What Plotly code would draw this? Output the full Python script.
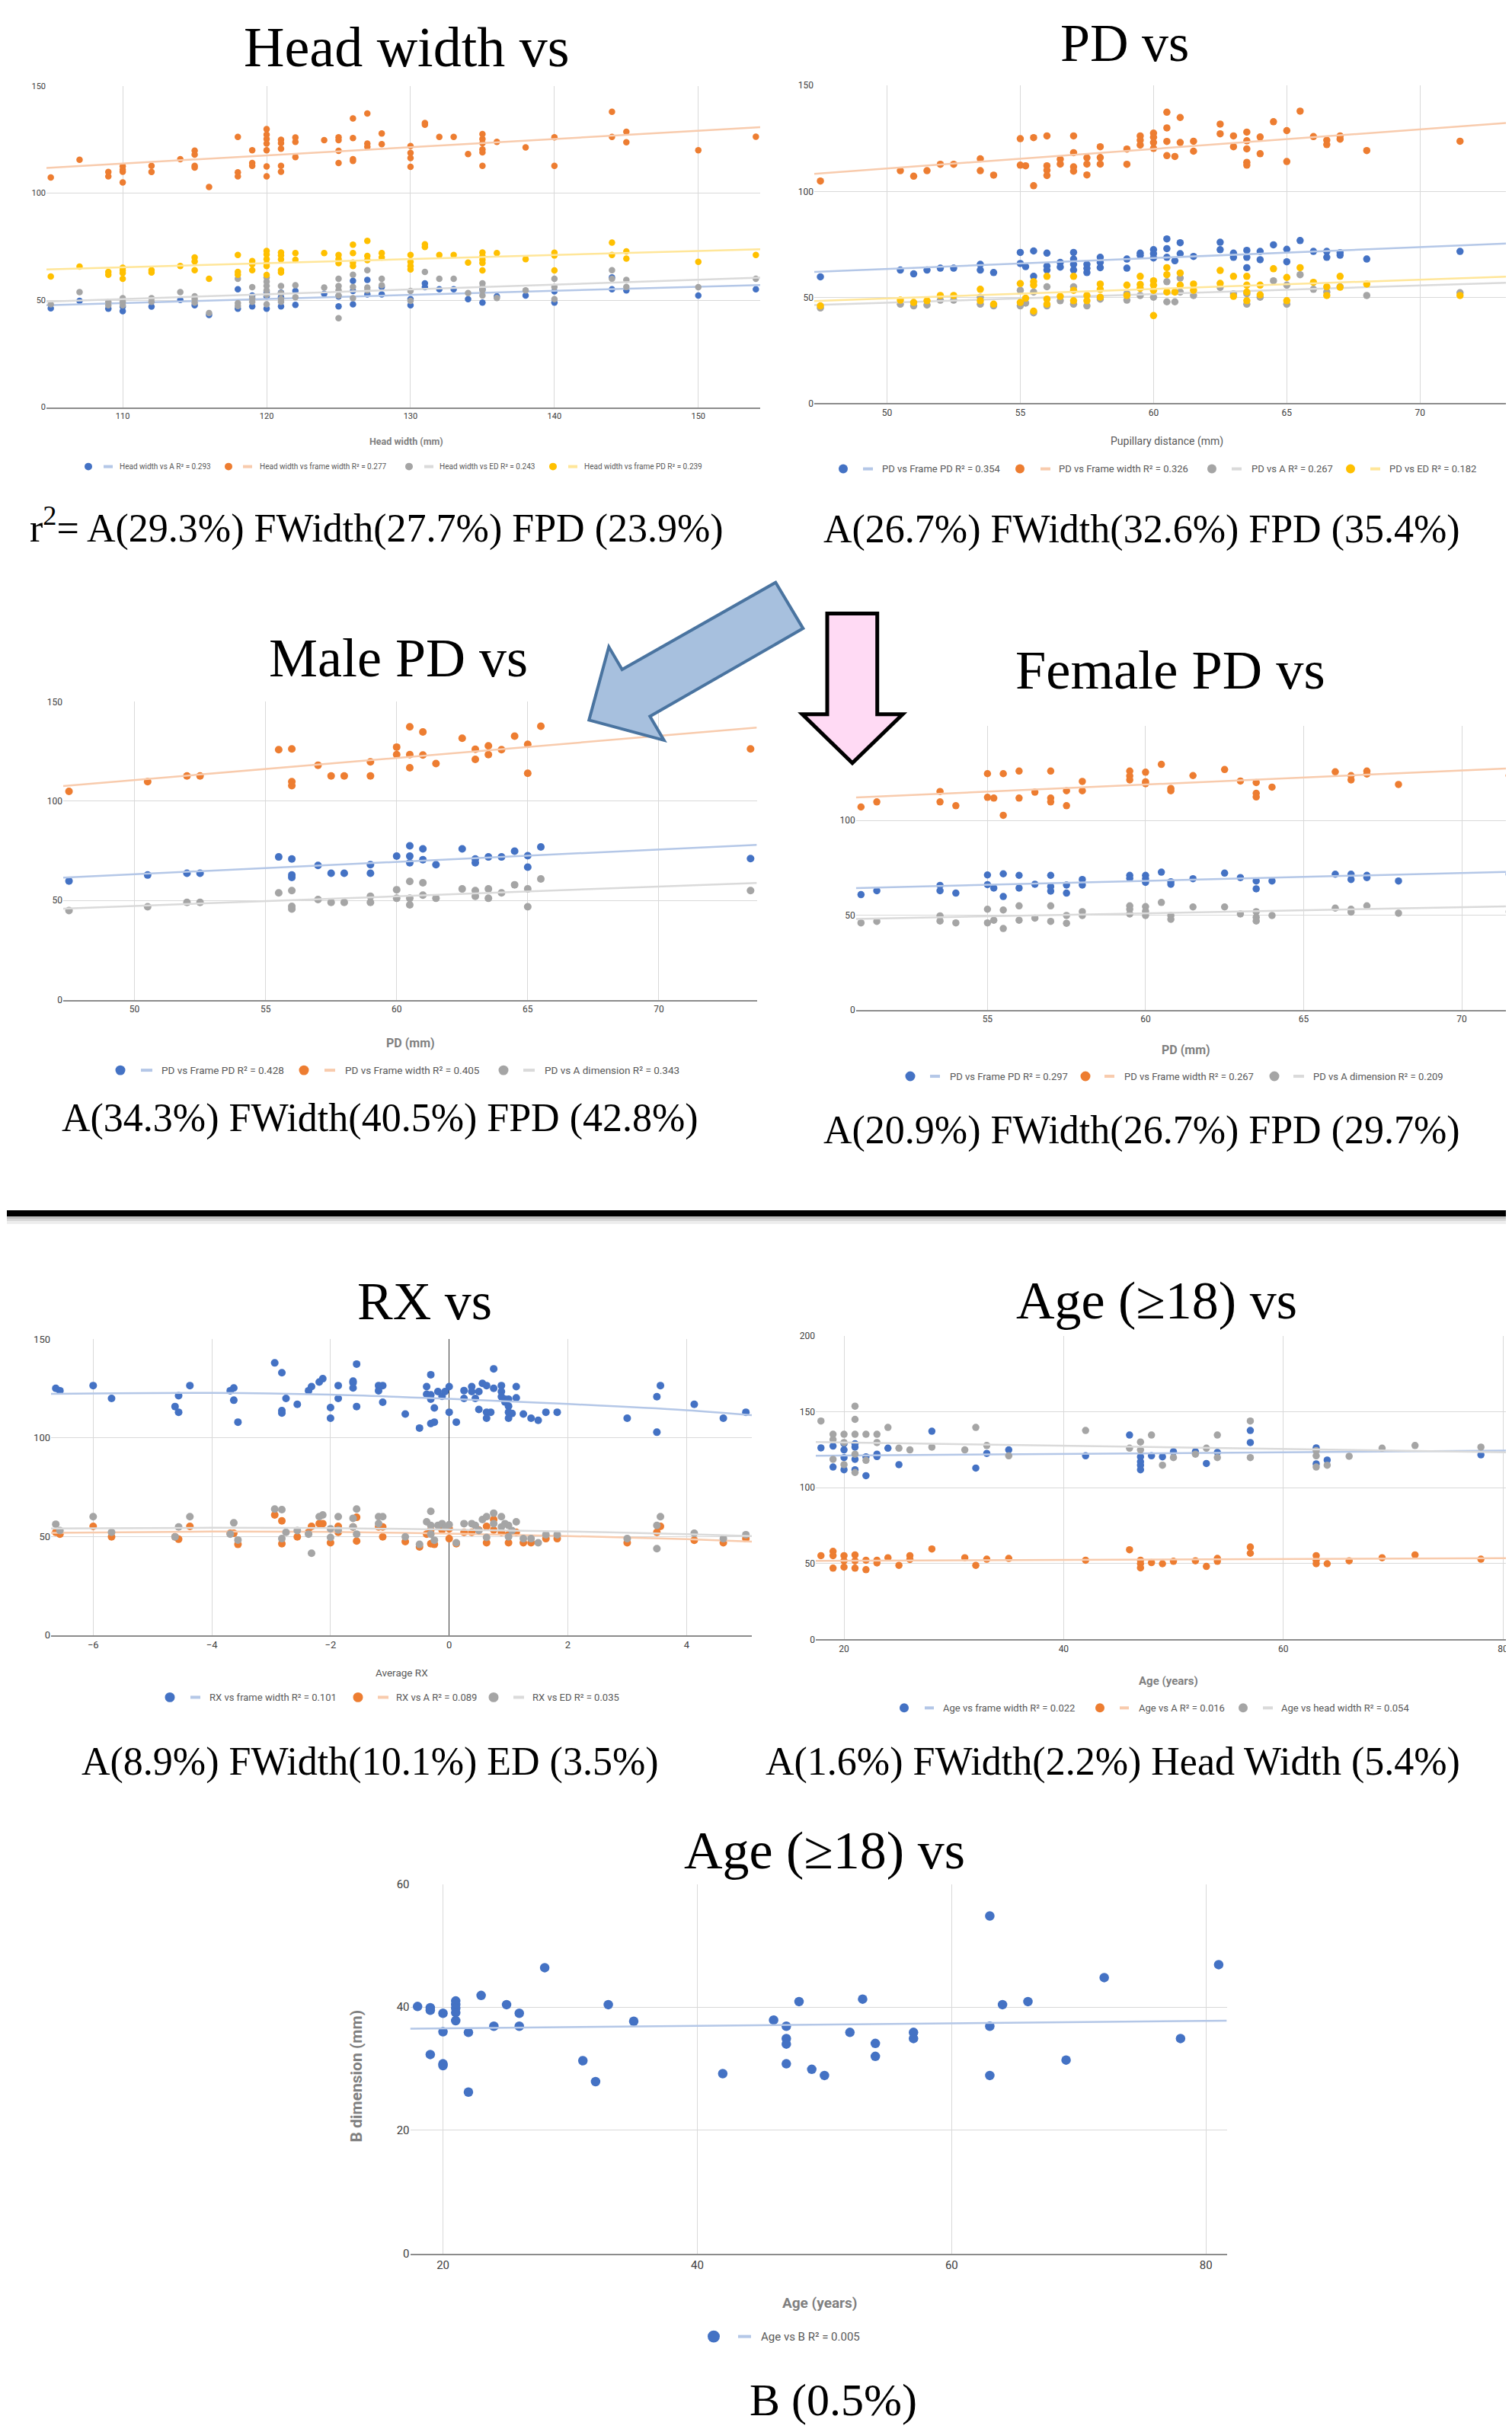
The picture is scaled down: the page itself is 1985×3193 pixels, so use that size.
import plotly.graph_objects as go

# Target page size and the browser's default body margin. The figure starts at the
# body margin and is sized so that it reaches the right / bottom page edge exactly.
W, H = 1985, 3193
M = 8
FW, FH = W - M, H - 2 * M

# ====================== DATA ======================
# ---- Panel 1: Head width vs ... (x = head width, mm)
hw_a_x = [105,107,109,110,110,112,114,115,116,118,118,119,119,120,120,120,121,121,121,122,122,124,125,125,126,126,126,127,127,128,128,130,130,131,131,132,133,134,135,135,136,138,140,140,144,144,145,150,154]
hw_a_y = [46.2,49.7,46.0,47.0,44.9,47.0,50.1,47.6,43.1,55.1,46.0,52.2,47.1,53.8,51.7,46.0,53.5,51.4,47.1,54.3,47.8,53.0,51.7,47.1,59.0,54.3,48.1,59.5,52.7,56.2,52.7,50.5,47.6,57.9,56.1,55.1,55.1,50.5,55.1,48.9,51.8,52.2,54.1,48.9,60.6,55.1,54.6,52.2,55.1]
hw_fw_x = [105,107,109,109,110,110,110,110,112,112,114,115,115,115,115,116,118,118,118,119,119,119,120,120,120,120,120,120,120,121,121,121,121,121,122,122,122,124,125,125,125,125,126,126,126,126,127,127,127,128,128,130,130,130,130,131,131,132,133,134,135,135,135,135,135,135,136,138,140,140,144,144,145,145,150,154]
hw_fw_y = [107.3,115.6,109.9,107.9,112.6,111.0,110.0,105.0,112.8,109.9,115.9,119.9,118.0,112.8,112.0,102.9,126.3,109.7,107.9,120.1,114.1,112.8,129.9,127.4,125.3,123.2,120.1,112.5,107.9,125.0,123.4,120.8,112.8,110.0,126.0,124.0,116.9,124.8,126.1,124.8,119.8,114.1,134.9,125.8,115.9,115.1,137.2,123.2,121.7,127.9,122.9,122.0,118.8,116.4,112.3,132.8,132.0,126.3,126.3,118.3,127.6,125.3,123.4,120.4,119.1,112.8,124.0,121.4,126.1,112.8,138.0,126.3,128.7,123.8,120.1,126.4]
hw_ed_x = [105,107,109,109,110,110,110,112,112,114,115,115,115,116,118,118,118,119,119,119,120,120,120,120,120,120,121,121,121,121,122,122,124,125,125,125,125,125,126,126,126,127,127,127,128,128,130,130,131,132,133,134,135,135,135,135,136,138,140,140,140,144,144,145,145,150,154]
hw_ed_y = [48.1,53.8,49.2,47.6,50.9,49.2,47.6,50.9,49.2,53.8,51.8,50.5,48.9,44.0,60.0,48.6,47.3,56.1,50.9,49.2,60.6,58.7,56.7,54.6,52.5,48.1,56.6,53.3,50.5,49.2,57.0,51.4,55.9,60.0,56.6,54.6,52.2,41.6,61.9,56.2,50.9,64.0,55.9,54.6,60.0,57.0,54.3,49.7,63.2,60.0,60.0,53.3,57.9,56.2,54.6,52.2,51.0,54.6,60.0,56.2,50.5,64.0,60.0,59.5,56.2,56.1,60.0]
hw_fpd_x = [105,107,109,109,110,110,110,110,112,112,114,115,115,115,116,118,118,118,119,119,119,120,120,120,120,120,120,121,121,121,121,121,122,122,124,125,125,125,126,126,126,126,127,127,127,128,128,130,130,130,130,131,131,132,133,134,135,135,135,135,135,136,138,140,140,140,144,144,145,145,150,154]
hw_fpd_y = [61.1,65.7,63.2,61.9,65.2,63.9,62.7,60.0,64.0,62.9,66.0,70.0,68.1,64.0,60.0,71.1,63.2,61.9,68.3,66.8,64.0,73.0,71.4,69.2,67.1,66.0,61.8,72.3,70.9,69.1,64.0,62.9,72.0,68.9,72.0,71.1,69.2,67.3,75.9,72.0,67.6,66.0,77.7,70.7,68.7,72.0,70.0,71.1,67.9,66.0,64.4,76.1,74.9,71.1,71.1,67.6,72.3,70.5,68.9,67.4,63.9,72.0,69.2,72.2,70.9,63.9,76.9,71.1,72.8,69.4,67.9,71.1]
hw_trend_x = [104.7, 154.3]
hw_trend_a = [47.6, 57.1]
hw_trend_fw = [111.8, 130.8]
hw_trend_ed = [49.3, 60.5]
hw_trend_fpd = [64.4, 73.8]
hw_labels = ["Head width vs A R² = 0.293", "Head width vs frame width R² = 0.277",
             "Head width vs ED R² = 0.243", "Head width vs frame PD R² = 0.239"]

# ---- Panel 2: PD vs ... (x = pupillary distance, mm)
pd_fpd_x = [47.5,50.5,51.0,51.5,52.0,52.5,53.5,53.5,54.0,55.0,55.0,55.2,55.5,55.5,56.0,56.0,56.0,56.5,56.5,57.0,57.0,57.0,57.0,57.5,57.5,57.5,58.0,58.0,58.0,59.0,59.0,59.5,59.5,60.0,60.0,60.0,60.5,60.5,60.5,60.8,61.0,61.0,61.5,62.5,62.5,63.0,63.0,63.5,63.5,63.5,64.0,64.0,64.5,65.0,65.0,65.5,66.0,66.5,66.5,67.0,67.0,68.0,71.5,73.4]
pd_fpd_y = [59.7,62.9,61.1,62.9,63.8,63.8,65.6,62.9,61.7,71.2,66.0,64.5,71.9,59.9,70.9,64.8,62.9,66.5,64.3,71.2,68.1,65.6,62.9,65.6,63.7,61.7,68.9,66.5,64.0,68.1,63.8,70.9,69.8,72.5,70.6,68.6,77.6,73.0,68.9,67.3,75.8,70.6,69.3,76.0,72.5,70.9,68.9,72.2,68.9,64.0,71.7,67.8,74.8,72.7,66.8,76.8,71.7,71.7,68.9,71.1,69.9,68.1,71.7,70.9]
pd_fw_x = [47.5,50.5,51.0,51.5,52.0,52.5,53.5,53.5,54.0,55.0,55.0,55.2,55.5,55.5,56.0,56.0,56.0,56.0,56.5,56.5,57.0,57.0,57.0,57.0,57.5,57.5,57.5,58.0,58.0,58.0,59.0,59.0,59.5,59.5,59.5,60.0,60.0,60.0,60.0,60.5,60.5,60.5,60.5,60.8,61.0,61.0,61.5,61.5,62.5,62.5,63.0,63.0,63.5,63.5,63.5,63.5,63.5,64.0,64.0,64.5,65.0,65.0,65.5,66.0,66.5,66.5,67.0,67.0,68.0,71.5,73.4]
pd_fw_y = [104.9,109.8,107.2,109.8,112.8,112.8,115.4,109.8,107.7,124.9,112.4,112.1,125.4,102.7,126.2,112.1,110.0,107.5,115.2,112.9,126.2,118.3,111.6,109.6,115.9,112.9,107.8,121.1,116.0,112.9,120.0,112.8,126.2,124.2,121.9,127.5,125.6,123.1,120.3,137.4,130.0,123.6,116.9,116.5,134.9,123.1,123.7,119.0,131.8,127.2,126.2,121.1,128.0,123.9,120.1,113.7,112.4,125.7,117.8,132.9,128.7,114.1,137.9,125.9,124.2,122.1,126.2,124.7,119.3,123.7,126.2]
pd_a_x = [47.5,50.5,51.0,51.5,52.0,52.5,53.5,53.5,54.0,55.0,55.0,55.2,55.5,55.5,56.0,56.0,56.5,57.0,57.0,57.5,58.0,59.0,59.0,59.5,60.0,60.5,60.5,60.8,61.0,61.0,61.5,62.5,63.0,63.5,63.5,64.0,64.5,65.0,65.0,65.5,66.0,66.5,67.0,68.0,71.5,73.4]
pd_a_y = [45.0,46.8,46.0,46.4,48.7,48.7,50.1,46.8,46.0,53.3,46.0,47.3,52.5,42.7,55.0,46.0,48.4,55.0,46.8,46.0,49.2,51.7,48.7,50.9,50.1,57.4,47.9,47.9,59.1,52.5,50.9,54.7,51.7,51.7,46.8,50.1,57.8,55.8,46.8,60.7,53.8,52.5,55.0,50.9,52.2,55.0]
pd_ed_x = [47.5,50.5,51.0,51.5,52.0,52.5,53.5,53.5,54.0,55.0,55.0,55.2,55.5,55.5,55.5,56.0,56.0,56.0,56.5,57.0,57.0,57.0,57.5,57.5,58.0,58.0,58.0,59.0,59.0,59.5,59.5,59.5,60.0,60.0,60.0,60.0,60.5,60.5,60.5,60.8,61.0,61.0,61.5,61.5,62.5,62.5,63.0,63.0,63.5,63.5,63.5,63.5,64.0,64.0,64.5,65.0,65.0,65.5,66.0,66.5,66.5,67.0,67.0,68.0,71.5,73.4]
pd_ed_y = [46.0,48.7,47.6,48.4,50.9,50.9,53.8,48.4,46.8,56.5,47.6,49.6,57.4,55.8,43.5,59.9,49.2,46.8,50.5,59.9,53.3,48.4,50.9,48.4,56.3,53.8,50.1,55.8,50.9,59.9,56.1,54.2,57.8,55.8,53.3,41.4,64.0,60.7,52.5,52.5,61.5,55.8,56.3,53.3,62.7,56.6,59.9,50.5,59.9,55.8,52.5,48.4,55.8,51.2,63.5,59.4,48.4,64.0,57.1,55.0,50.9,59.9,54.8,56.3,50.9,59.9]
pd_trend_x = [47.27, 73.45]
pd_trend_fpd = [62.0, 75.5]
pd_trend_fw = [108.3, 132.5]
pd_trend_a = [46.4, 57.0]
pd_trend_ed = [48.3, 59.9]
pd_labels = ["PD vs Frame PD R² = 0.354", "PD vs Frame width R² = 0.326",
             "PD vs A R² = 0.267", "PD vs ED R² = 0.182"]

# ---- Panel 3: Male PD vs ...
m_fpd_x = [47.5,50.5,52.0,52.5,55.5,56.0,56.0,56.0,57.0,57.5,58.0,59.0,59.0,60.0,60.5,60.5,60.5,61.0,61.0,61.5,62.5,63.0,63.0,63.5,64.0,64.5,65.0,65.0,65.5,73.5]
m_fpd_y = [59.8,62.8,63.7,63.7,71.9,70.9,62.8,61.6,67.6,63.7,63.7,68.0,63.7,72.3,77.5,72.3,69.0,76.0,70.5,68.0,76.0,70.9,69.0,71.9,71.9,74.8,72.5,66.8,76.9,71.1]
m_fw_x = [47.5,50.5,52.0,52.5,55.5,56.0,56.0,56.0,57.0,57.5,58.0,59.0,59.0,60.0,60.0,60.5,60.5,60.5,61.0,61.0,61.5,62.5,63.0,63.0,63.5,63.5,64.0,64.5,65.0,65.0,65.5,73.5]
m_fw_y = [104.9,109.8,112.7,112.7,125.9,126.3,109.8,107.8,118.1,112.7,112.7,119.8,112.7,127.2,123.4,137.4,123.4,116.8,134.8,123.2,118.9,131.7,126.1,121.0,127.8,123.4,125.9,132.7,128.6,114.0,137.7,126.3]
m_a_x = [47.5,50.5,52.0,52.5,55.5,56.0,56.0,56.0,57.0,57.5,58.0,59.0,59.0,60.0,60.0,60.5,60.5,60.5,61.0,61.0,61.5,62.5,63.0,63.0,63.5,63.5,64.0,64.5,65.0,65.0,65.5,73.5]
m_a_y = [44.9,46.8,49.0,49.0,53.8,55.0,47.0,45.7,50.5,49.0,49.0,52.1,49.0,55.4,51.1,59.6,51.1,47.8,58.9,52.7,51.1,55.8,55.0,52.1,55.8,51.1,53.8,57.9,55.8,46.8,60.8,55.0]
m_trend_x = [47.28, 73.74]
m_trend_fpd = [61.5, 78.0]
m_trend_fw = [107.6, 137.0]
m_trend_a = [45.9, 58.8]
m_labels = ["PD vs Frame PD R² = 0.428", "PD vs Frame width R² = 0.405", "PD vs A dimension R² = 0.343"]

# ---- Panel 4: Female PD vs ...
f_fpd_x = [51.0,51.5,53.5,53.5,54.0,55.0,55.0,55.2,55.5,55.5,56.0,56.0,56.5,57.0,57.0,57.0,57.5,57.5,58.0,58.0,59.5,59.5,60.0,60.0,60.0,60.5,60.8,60.8,61.5,62.5,63.0,63.5,63.5,64.0,66.0,66.5,66.5,67.0,67.0,68.0,71.5]
f_fpd_y = [60.8,62.9,65.7,62.9,61.6,71.2,66.1,64.3,71.8,59.8,71.0,64.3,66.3,71.0,65.1,62.7,65.9,61.6,68.8,65.9,71.0,69.4,71.0,69.2,67.3,72.7,67.6,66.3,69.2,72.2,69.8,68.0,63.9,68.0,71.6,71.6,68.8,71.0,69.8,68.0,71.6]
f_fw_x = [51.0,51.5,53.5,53.5,54.0,55.0,55.0,55.2,55.5,55.5,56.0,56.0,56.5,57.0,57.0,57.0,57.5,57.5,58.0,58.0,59.5,59.5,59.5,60.0,60.0,60.0,60.5,60.8,60.8,61.5,62.5,63.0,63.5,63.5,63.5,64.0,66.0,66.5,66.5,67.0,67.0,68.0,71.5]
f_fw_y = [107.1,109.8,115.3,109.8,107.8,124.7,112.2,111.8,124.7,102.7,126.1,111.8,114.9,126.1,111.8,109.8,115.7,107.8,120.6,115.7,126.1,123.5,121.4,125.5,120.4,119.4,129.6,116.9,115.7,123.7,126.9,120.8,120.0,114.3,112.4,117.6,125.7,123.7,121.4,126.1,124.5,119.0,123.7]
f_a_x = [51.0,51.5,53.5,53.5,54.0,55.0,55.0,55.2,55.5,55.5,56.0,56.0,56.5,57.0,57.0,57.5,57.5,58.0,58.0,59.5,59.5,59.5,60.0,60.0,60.0,60.5,60.8,60.8,61.5,62.5,63.0,63.5,63.5,63.5,64.0,66.0,66.5,66.5,67.0,68.0,71.5]
f_a_y = [45.9,46.7,49.6,46.9,45.9,53.1,45.9,47.3,52.7,42.9,54.9,47.3,48.4,54.9,46.7,49.8,45.7,51.8,49.8,54.9,53.1,50.6,54.5,52.0,49.8,56.7,49.8,47.8,54.3,54.3,50.6,51.8,48.8,46.9,49.8,53.7,53.1,51.6,54.9,51.0,51.8]
f_trend_x = [50.84, 71.59]
f_trend_fpd = [64.3, 72.9]
f_trend_fw = [112.1, 127.6]
f_trend_a = [48.0, 54.7]
f_labels = ["PD vs Frame PD R² = 0.297", "PD vs Frame width R² = 0.267", "PD vs A dimension R² = 0.209"]

# ---- Panel 5: RX vs ... (x = average RX)
rx_fw_x = [-6.63,-6.56,-6.0,-5.69,-4.62,-4.56,-4.56,-4.37,-3.69,-3.63,-3.63,-3.56,-2.94,-2.82,-2.82,-2.82,-2.75,-2.56,-2.37,-2.32,-2.19,-2.13,-2.0,-2.0,-1.87,-1.87,-1.62,-1.62,-1.62,-1.56,-1.56,-1.19,-1.19,-1.12,-1.12,-0.74,-0.5,-0.38,-0.38,-0.31,-0.31,-0.31,-0.31,-0.25,-0.25,-0.19,-0.12,-0.07,0.0,0.0,0.12,0.25,0.25,0.38,0.38,0.44,0.5,0.5,0.56,0.63,0.63,0.63,0.70,0.75,0.75,0.88,0.88,0.88,0.94,0.94,1.0,1.0,1.0,1.0,1.06,1.13,1.13,1.25,1.38,1.5,1.63,1.82,3.0,3.5,3.5,3.56,4.13,4.62,5.0]
rx_fw_y = [125.0,123.8,126.4,119.9,115.8,121.3,112.9,126.4,123.8,125.2,119.0,107.9,137.9,132.9,113.7,112.5,119.9,116.9,123.8,125.9,128.2,129.9,115.3,109.9,126.4,119.9,128.7,127.8,125.2,137.3,115.8,126.4,123.8,126.4,118.0,112.0,104.9,125.9,122.0,131.9,121.7,119.5,107.2,115.1,107.9,123.4,121.0,123.4,125.9,112.9,107.9,123.9,119.9,125.9,123.4,119.9,123.4,114.3,127.5,126.4,112.9,109.9,112.9,134.9,125.0,126.4,123.4,120.8,119.5,118.1,119.5,116.0,112.9,109.9,112.3,125.9,120.2,112.0,109.9,108.8,112.9,112.9,109.9,120.8,102.8,126.4,116.9,109.9,112.9]
rx_a_x = [-6.63,-6.56,-6.0,-5.69,-4.62,-4.56,-4.37,-3.69,-3.63,-3.56,-2.94,-2.82,-2.82,-2.56,-2.37,-2.32,-2.19,-2.13,-2.0,-1.87,-1.87,-1.62,-1.56,-1.56,-1.19,-1.12,-1.12,-0.74,-0.5,-0.38,-0.31,-0.31,-0.25,-0.12,0.0,0.0,0.12,0.25,0.38,0.5,0.63,0.63,0.75,0.75,0.88,1.0,1.0,1.13,1.25,1.38,1.63,1.82,3.0,3.5,3.56,4.13,4.62,5.0]
rx_a_y = [52.1,51.2,55.1,49.8,49.8,48.6,55.1,51.6,51.6,46.0,60.9,57.9,46.3,49.8,52.1,55.1,56.5,56.5,46.8,55.1,52.1,54.8,59.7,47.7,54.8,54.8,49.8,47.4,44.7,51.2,53.3,46.3,46.0,53.3,53.9,48.9,46.3,52.1,52.1,53.3,55.1,46.8,58.6,53.3,52.1,46.8,50.9,52.1,46.8,46.8,48.9,48.9,46.8,52.1,55.1,48.1,46.8,48.9]
rx_ed_x = [-6.63,-6.56,-6.0,-5.69,-4.62,-4.56,-4.37,-3.69,-3.63,-3.56,-2.94,-2.82,-2.82,-2.75,-2.56,-2.37,-2.32,-2.19,-2.13,-2.0,-2.0,-1.87,-1.87,-1.62,-1.62,-1.56,-1.56,-1.19,-1.19,-1.12,-0.74,-0.5,-0.38,-0.31,-0.31,-0.31,-0.25,-0.19,-0.12,-0.07,0.0,0.12,0.25,0.38,0.44,0.5,0.56,0.63,0.63,0.75,0.75,0.88,0.88,0.94,1.0,1.0,1.06,1.13,1.25,1.38,1.5,1.63,1.82,3.0,3.5,3.5,3.56,4.13,4.62,5.0]
rx_ed_y = [56.2,53.0,60.0,52.1,49.8,54.8,60.0,51.2,56.9,48.2,63.9,63.6,48.9,52.1,53.0,51.2,41.5,60.0,60.9,53.9,49.5,60.0,53.3,59.2,54.8,63.9,51.2,60.0,56.5,60.0,49.8,46.0,57.4,62.7,55.6,51.2,48.1,55.6,56.5,54.8,56.0,46.8,56.5,56.5,55.6,53.0,58.6,60.0,49.5,61.8,56.5,60.0,54.8,56.5,55.6,49.8,53.0,57.4,48.9,48.9,46.8,50.9,50.9,48.9,55.6,43.8,60.0,51.6,48.9,50.9]
rx_trend_x = [-6.71, -4, -2, 0, 2, 4, 5.1]
rx_trend_fw = [122.2, 122.7, 121.8, 119.7, 117.1, 113.9, 111.4]
rx_trend_a = [51.8, 52.5, 52.3, 51.4, 50.2, 48.6, 47.4]
rx_trend_ed = [54.0, 54.4, 54.2, 53.5, 52.5, 51.2, 50.2]
rx_labels = ["RX vs frame width R² = 0.101", "RX vs A R² = 0.089", "RX vs ED R² = 0.035"]

# ---- Panel 6: Age (>=18) vs ...
age_fw_x = [17.9,19,19,20,20,20,20,21,21,21,21,22,22,23,23,24,25,28,32,33,35,42,46,47,47,47,47,48,49,50,52,53,54,57,57,63,63,64,78,80.8]
age_fw_y = [126.2,127.4,113.6,129.0,124.9,119.8,111.8,129.0,126.7,118.7,111.8,120.3,107.9,122.1,120.5,126.0,115.2,137.2,112.9,122.6,124.9,121.0,134.7,120.3,117.1,114.8,111.8,121.0,120.3,123.7,123.7,115.9,123.3,137.7,129.7,126.2,115.7,118.2,121.6,131.7]
age_a_x = [17.9,19,19,19,20,20,20,21,21,21,22,22,23,23,24,25,26,26,28,31,32,33,35,42,46,47,47,47,48,49,50,52,53,54,54,57,57,63,63,63,64,66,69,72,78,80.8]
age_a_y = [55.2,58.0,55.2,47.0,55.2,51.8,47.7,55.7,51.8,47.0,52.2,46.0,52.2,50.4,53.8,48.8,55.2,52.7,59.6,53.8,48.8,52.9,53.4,52.2,59.1,52.2,49.9,47.2,50.6,49.9,51.5,51.8,48.1,53.4,51.5,60.9,56.8,55.2,52.2,49.9,49.9,51.8,53.8,55.7,52.9,55.7]
age_hw_x = [17.9,19,19,19,20,20,20,21,21,21,21,21,22,22,23,23,24,25,26,28,31,32,33,35,42,46,47,47,48,49,50,52,53,54,54,57,57,63,63,63,64,66,69,72,78]
age_hw_y = [143.9,135.2,131.7,118.7,135.2,129.7,115.2,153.7,145.0,135.2,122.1,110.0,135.2,118.0,135.2,129.7,139.7,126.0,124.9,126.7,124.9,139.7,127.8,121.0,137.7,126.0,130.1,124.9,134.7,114.8,119.8,122.1,126.0,134.7,119.8,143.9,119.8,124.4,121.0,113.6,114.8,120.7,126.0,127.8,126.7]
age_trend_x = [17.43, 80.83]
age_trend_fw = [121.0, 124.4]
age_trend_a = [51.8, 53.6]
age_trend_hw = [130.1, 123.2]
age_labels = ["Age vs frame width R² = 0.022", "Age vs A R² = 0.016", "Age vs head width R² = 0.054"]

# ---- Panel 7: Age (>=18) vs B dimension
b_x = [18,19,19,19,20,20,20,20,21,21,21,21,21,22,22,23,24,25,26,26,28,31,32,33,35,42,46,47,47,47,47,48,49,50,52,53,54,54,57,57,63,63,63,64,66,69,72,78,81]
b_y = [40.1,39.9,39.5,32.3,39.0,36.0,30.8,30.5,41.0,40.4,39.8,39.1,37.8,35.9,26.2,41.9,36.9,40.4,39.0,36.9,46.4,31.3,27.9,40.4,37.7,29.2,37.9,36.9,34.9,34.0,30.8,40.9,29.9,28.9,35.9,41.3,34.1,32.0,35.9,34.9,54.8,36.9,28.9,40.4,40.9,31.4,44.8,34.9,46.9]
b_trend_x = [17.42, 81.64]
b_trend_y = [36.5, 37.8]
b_labels = ["Age vs B R² = 0.005"]

# ====================== STYLE ======================
BLUE, ORANGE, GRAY, YELLOW = "#4472C4", "#ED7D31", "#A5A5A5", "#FFC000"
T_BLUE, T_ORANGE, T_GRAY, T_YELLOW = "#B4C7E7", "#F8CBAD", "#DADADA", "#FFE699"
GRID, AXIS, TICK, LEGTXT = "#D9D9D9", "#8C8C8C", "#404040", "#595959"
SANS = "Roboto, Liberation Sans, sans-serif"
SERIF = "Liberation Serif, DejaVu Serif, serif"


def fx(p):
    """page pixel x -> paper fraction"""
    return min(max((p - M) / FW, 0.0), 1.0)


def fy(p):
    """page pixel y -> paper fraction"""
    return min(max(1 - (p - M) / FH, 0.0), 1.0)


fig = go.Figure()
shapes = []
annotations = []


def add_panel(n, xpx, ypx, xrange, yrange, xdtick, ydtick, tickfont, msize, series,
              trend_x, line_shape="linear", zero_x=False):
    xk = "xaxis" if n == 1 else f"xaxis{n}"
    yk = "yaxis" if n == 1 else f"yaxis{n}"
    xr = "x" if n == 1 else f"x{n}"
    yr = "y" if n == 1 else f"y{n}"
    tf = dict(family=SANS, size=tickfont, color=TICK)
    fig.update_layout(**{
        xk: dict(domain=[fx(xpx[0]), fx(xpx[1])], anchor=yr, range=xrange, dtick=xdtick, tick0=0,
                 showgrid=True, gridcolor=GRID, gridwidth=1, showline=True, linecolor=AXIS,
                 linewidth=2, zeroline=zero_x, zerolinecolor="#3A3A3A", zerolinewidth=1.5,
                 ticks="", tickfont=tf, fixedrange=True, ticklabeloverflow="allow"),
        yk: dict(domain=[fy(ypx[1]), fy(ypx[0])], anchor=xr, range=yrange, dtick=ydtick, tick0=0,
                 showgrid=True, gridcolor=GRID, gridwidth=1, zeroline=False, showline=False,
                 ticks="", tickfont=tf, fixedrange=True),
    })
    for (x, y, color, ty, tcolor, name) in series:
        fig.add_trace(go.Scatter(x=x, y=y, mode="markers", name=name,
                                 marker=dict(color=color, size=msize, line=dict(width=0)),
                                 xaxis=xr, yaxis=yr, showlegend=False, hoverinfo="skip"))
        fig.add_trace(go.Scatter(x=trend_x, y=ty, mode="lines", name=name + " (trend)",
                                 line=dict(color=tcolor, width=2.5, shape=line_shape),
                                 xaxis=xr, yaxis=yr, showlegend=False, hoverinfo="skip"))


def add_legend(items, yc, fsize, dot):
    for (dx, lx0, lx1, tx, color, tcolor, label) in items:
        shapes.append(dict(type="circle", xref="paper", yref="paper", layer="above",
                           x0=fx(dx - dot / 2), x1=fx(dx + dot / 2),
                           y0=fy(yc + dot / 2), y1=fy(yc - dot / 2),
                           fillcolor=color, line=dict(width=0)))
        shapes.append(dict(type="line", xref="paper", yref="paper", layer="above",
                           x0=fx(lx0), x1=fx(lx1), y0=fy(yc), y1=fy(yc),
                           line=dict(color=tcolor, width=4)))
        annotations.append(dict(text=label, x=fx(tx), y=fy(yc), xref="paper", yref="paper",
                                xanchor="left", yanchor="middle", showarrow=False,
                                font=dict(family=SANS, size=fsize, color=LEGTXT)))


def text(t, x, y, size, family=SERIF, color="black", angle=0):
    annotations.append(dict(text=t, x=fx(x), y=fy(y), xref="paper", yref="paper",
                            xanchor="center", yanchor="middle", showarrow=False,
                            textangle=angle, font=dict(family=family, size=size, color=color)))


# ---- Panel 1
add_panel(1, (61, 998), (104.7, 528.5), [104.7, 154.3], [0, 150], 10, 50, 11, 8.5, [
    (hw_a_x, hw_a_y, BLUE, hw_trend_a, T_BLUE, hw_labels[0]),
    (hw_fw_x, hw_fw_y, ORANGE, hw_trend_fw, T_ORANGE, hw_labels[1]),
    (hw_ed_x, hw_ed_y, GRAY, hw_trend_ed, T_GRAY, hw_labels[2]),
    (hw_fpd_x, hw_fpd_y, YELLOW, hw_trend_fpd, T_YELLOW, hw_labels[3]),
], hw_trend_x)
add_legend([
    (116, 136, 148, 155, BLUE, T_BLUE, hw_labels[0]),
    (300, 319, 331, 339, ORANGE, T_ORANGE, hw_labels[1]),
    (537, 557, 569, 575, GRAY, T_GRAY, hw_labels[2]),
    (726, 746, 758, 765, YELLOW, T_YELLOW, hw_labels[3]),
], 607, 10, 10)
text("<b>Head width (mm)</b>", 533, 574, 12.5, SANS, "#7F7F7F")
text("Head width vs", 534, 53.5, 74)
text("r<sup>2</sup>= A(29.3%) FWidth(27.7%) FPD (23.9%)", 494, 685, 52)

# ---- Panel 2
add_panel(2, (1069, 1985), (103.8, 523.4), [47.27, 73.45], [0, 150], 5, 50, 12, 9.5, [
    (pd_fpd_x, pd_fpd_y, BLUE, pd_trend_fpd, T_BLUE, pd_labels[0]),
    (pd_fw_x, pd_fw_y, ORANGE, pd_trend_fw, T_ORANGE, pd_labels[1]),
    (pd_a_x, pd_a_y, GRAY, pd_trend_a, T_GRAY, pd_labels[2]),
    (pd_ed_x, pd_ed_y, YELLOW, pd_trend_ed, T_YELLOW, pd_labels[3]),
], pd_trend_x)
add_legend([
    (1107, 1133, 1146, 1156, BLUE, T_BLUE, pd_labels[0]),
    (1339, 1366, 1379, 1388, ORANGE, T_ORANGE, pd_labels[1]),
    (1591, 1617, 1630, 1641, GRAY, T_GRAY, pd_labels[2]),
    (1773, 1799, 1812, 1822, YELLOW, T_YELLOW, pd_labels[3]),
], 610, 13, 12)
text("Pupillary distance (mm)", 1532, 574, 14, SANS, LEGTXT)
text("PD vs", 1476, 48, 70)
text("A(26.7%) FWidth(32.6%) FPD (35.4%)", 1499, 690, 52)

# ---- Panel 3
add_panel(3, (83, 993.6), (917.6, 1311), [47.28, 73.74], [0, 150], 5, 50, 12, 10, [
    (m_fpd_x, m_fpd_y, BLUE, m_trend_fpd, T_BLUE, m_labels[0]),
    (m_fw_x, m_fw_y, ORANGE, m_trend_fw, T_ORANGE, m_labels[1]),
    (m_a_x, m_a_y, GRAY, m_trend_a, T_GRAY, m_labels[2]),
], m_trend_x)
add_legend([
    (158, 185, 200, 210, BLUE, T_BLUE, m_labels[0]),
    (399, 426, 440, 451, ORANGE, T_ORANGE, m_labels[1]),
    (661, 687, 702, 713, GRAY, T_GRAY, m_labels[2]),
], 1404, 13.5, 13)
text("<b>PD (mm)</b>", 539, 1368, 16, SANS, "#7F7F7F")
text("Male PD vs", 523, 860, 72)
text("A(34.3%) FWidth(40.5%) FPD (42.8%)", 499, 1467, 52)

# ---- Panel 4
add_panel(4, (1123.7, 1985), (949.2, 1324.2), [50.84, 71.59], [0, 150], 5, 50, 12, 9.5, [
    (f_fpd_x, f_fpd_y, BLUE, f_trend_fpd, T_BLUE, f_labels[0]),
    (f_fw_x, f_fw_y, ORANGE, f_trend_fw, T_ORANGE, f_labels[1]),
    (f_a_x, f_a_y, GRAY, f_trend_a, T_GRAY, f_labels[2]),
], f_trend_x)
add_legend([
    (1195, 1221, 1234, 1245, BLUE, T_BLUE, f_labels[0]),
    (1425, 1450, 1463, 1474, ORANGE, T_ORANGE, f_labels[1]),
    (1673, 1698, 1712, 1722, GRAY, T_GRAY, f_labels[2]),
], 1412, 13, 13)
text("<b>PD (mm)</b>", 1557, 1377, 16, SANS, "#7F7F7F")
text("Female PD vs", 1536, 875, 72.5)
text("A(20.9%) FWidth(26.7%) FPD (29.7%)", 1499, 1483, 52)

# ---- Panel 5
add_panel(5, (67, 987), (1758.9, 2150), [-6.71, 5.1], [0, 150], 2, 50, 13, 10, [
    (rx_fw_x, rx_fw_y, BLUE, rx_trend_fw, T_BLUE, rx_labels[0]),
    (rx_a_x, rx_a_y, ORANGE, rx_trend_a, T_ORANGE, rx_labels[1]),
    (rx_ed_x, rx_ed_y, GRAY, rx_trend_ed, T_GRAY, rx_labels[2]),
], rx_trend_x, line_shape="spline", zero_x=True)
add_legend([
    (223, 250, 263, 273, BLUE, T_BLUE, rx_labels[0]),
    (470, 496, 510, 518, ORANGE, T_ORANGE, rx_labels[1]),
    (648, 674, 688, 697, GRAY, T_GRAY, rx_labels[2]),
], 2232, 13, 13)
text("Average RX", 527, 2199, 13.5, SANS, LEGTXT)
text("RX vs", 557, 1709, 70)
text("A(8.9%) FWidth(10.1%) ED (3.5%)", 486, 2317, 52)

# ---- Panel 6
add_panel(6, (1071, 1985), (1754.8, 2155.6), [17.43, 80.83], [0, 200], 20, 50, 12, 9.5, [
    (age_fw_x, age_fw_y, BLUE, age_trend_fw, T_BLUE, age_labels[0]),
    (age_a_x, age_a_y, ORANGE, age_trend_a, T_ORANGE, age_labels[1]),
    (age_hw_x, age_hw_y, GRAY, age_trend_hw, T_GRAY, age_labels[2]),
], age_trend_x)
add_legend([
    (1187, 1214, 1226, 1236, BLUE, T_BLUE, age_labels[0]),
    (1444, 1470, 1482, 1493, ORANGE, T_ORANGE, age_labels[1]),
    (1632, 1658, 1671, 1680, GRAY, T_GRAY, age_labels[2]),
], 2246, 13, 12)
text("<b>Age (years)</b>", 1534, 2210, 15, SANS, "#7F7F7F")
text("Age (≥18) vs", 1518, 1708, 70)
text("A(1.6%) FWidth(2.2%) Head Width (5.4%)", 1461, 2317, 52)

# ---- Panel 7
add_panel(7, (538.5, 1610.6), (2478.5, 2966.3), [17.42, 81.64], [0, 60], 20, 20, 15, 12.5, [
    (b_x, b_y, BLUE, b_trend_y, T_BLUE, b_labels[0]),
], b_trend_x)
add_legend([
    (937, 969, 986, 997, BLUE, T_BLUE, b_labels[0]),
], 3076, 15, 16)
text("<b>Age (years)</b>", 1076, 3032, 19, SANS, "#7F7F7F")
text("<b>B dimension (mm)</b>", 468, 2732, 21, SANS, "#7F7F7F", angle=-90)
text("Age (≥18) vs", 1082, 2434, 70)
text("B (0.5%)", 1094, 3160, 60)


# ---- Decorations: arrows and separator
def path(pts):
    return "M " + " L ".join(f"{fx(a):.5f},{fy(b):.5f}" for a, b in pts) + " Z"


blue_arrow = [(1018.3, 760), (1054.3, 820.7), (853.3, 936.7), (871.7, 968.3),
              (773.3, 941.7), (799.3, 845), (816.7, 875)]
pink_arrow = [(1086, 801), (1151.7, 801), (1151.7, 934), (1185, 934),
              (1119, 998.3), (1053.3, 934), (1086, 934)]
shapes.append(dict(type="path", path=path(blue_arrow), xref="paper", yref="paper", layer="above",
                   fillcolor="#A7C0DE", line=dict(color="#4A74A0", width=4)))
shapes.append(dict(type="path", path=path(pink_arrow), xref="paper", yref="paper", layer="above",
                   fillcolor="#FFDAF4", line=dict(color="black", width=5)))
for (y0, y1, c) in [(1597, 1600, "#BDBDBD"), (1600, 1603, "#D6D6D6"), (1603, 1607, "#EDEDED")]:
    shapes.append(dict(type="rect", xref="paper", yref="paper", layer="above",
                       x0=fx(9), x1=1, y0=fy(y1), y1=fy(y0), fillcolor=c, line=dict(width=0)))
shapes.append(dict(type="rect", xref="paper", yref="paper", layer="above",
                   x0=fx(9), x1=1, y0=fy(1597), y1=fy(1589), fillcolor="black", line=dict(width=0)))

fig.update_layout(width=FW, height=FH, autosize=False, margin=dict(l=0, r=0, t=0, b=0, pad=0),
                  paper_bgcolor="white", plot_bgcolor="white", showlegend=False,
                  shapes=shapes, annotations=annotations)

fig.write_html("out.html", include_plotlyjs=True, full_html=True,
               config={"displayModeBar": False, "staticPlot": True})
